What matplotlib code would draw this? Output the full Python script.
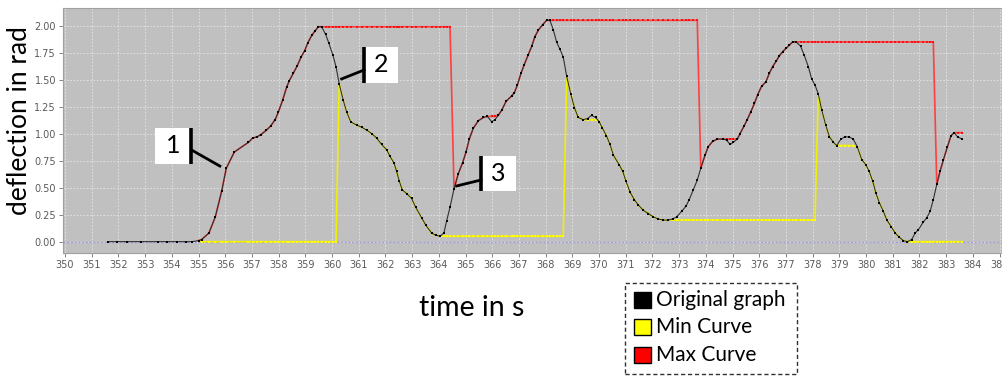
import matplotlib
matplotlib.use("Agg")
import matplotlib.pyplot as plt
from matplotlib.patches import Rectangle
import numpy as np

# ---------------- data ----------------
orig_t = [351.62, 351.96, 352.33, 352.83, 353.47, 353.83, 354.18, 354.52, 354.77, 355.00,
          355.12, 355.39, 355.63, 355.87, 356.04, 356.34, 356.87, 357.03, 357.18, 357.33,
          357.53, 357.70, 357.87, 357.99, 358.15, 358.30, 358.40, 358.55, 358.70, 358.84,
          358.98, 359.09, 359.24, 359.36, 359.49, 359.61, 359.76, 359.88, 360.03, 360.15,
          360.27, 360.42, 360.55, 360.70, 360.92, 361.11, 361.32, 361.49, 361.67, 361.86,
          362.05, 362.17, 362.32, 362.42, 362.52, 362.63, 362.82, 362.98, 363.13, 363.36,
          363.52, 363.73, 363.89, 364.04, 364.19, 364.29, 364.42, 364.57, 364.73, 364.89,
          365.02, 365.14, 365.29, 365.48, 365.67, 365.82, 365.98, 366.10, 366.23, 366.36,
          366.52, 366.73, 366.83, 366.94, 367.08, 367.20, 367.35, 367.48, 367.60, 367.73,
          367.89, 368.04, 368.16, 368.29, 368.41, 368.54, 368.66, 368.79, 368.94, 369.08,
          369.22, 369.41, 369.57, 369.72, 369.87, 370.01, 370.13, 370.28, 370.41, 370.54,
          370.76, 370.89, 371.01, 371.16, 371.32, 371.47, 371.66, 371.85, 372.03, 372.22,
          372.41, 372.58, 372.76, 372.91, 373.09, 373.26, 373.38, 373.53, 373.68, 373.81,
          373.97, 374.09, 374.26, 374.43, 374.66, 374.78, 374.91, 375.03, 375.18, 375.28,
          375.43, 375.55, 375.68, 375.82, 375.94, 376.09, 376.25, 376.38, 376.50, 376.63,
          376.75, 376.88, 377.00, 377.13, 377.25, 377.38, 377.55, 377.68, 377.84, 377.96,
          378.09, 378.21, 378.34, 378.49, 378.63, 378.78, 378.90, 379.06, 379.21, 379.37,
          379.52, 379.67, 379.84, 380.00, 380.12, 380.25, 380.37, 380.50, 380.65, 380.78,
          380.94, 381.09, 381.25, 381.40, 381.55, 381.71, 381.84, 381.96, 382.14, 382.27,
          382.40, 382.52, 382.65, 382.77, 382.90, 383.05, 383.18, 383.30, 383.43, 383.60]
orig_v = [0.00, 0.00, 0.00, 0.00, 0.00, 0.00, 0.00, 0.00, 0.00, 0.01,
          0.02, 0.08, 0.23, 0.47, 0.68, 0.83, 0.92, 0.96, 0.97, 0.99,
          1.03, 1.07, 1.13, 1.20, 1.31, 1.43, 1.49, 1.56, 1.63, 1.71,
          1.77, 1.84, 1.91, 1.95, 1.99, 1.99, 1.92, 1.84, 1.73, 1.62,
          1.46, 1.31, 1.20, 1.11, 1.08, 1.06, 1.03, 1.00, 0.96, 0.90,
          0.85, 0.79, 0.73, 0.65, 0.56, 0.48, 0.44, 0.40, 0.32, 0.22,
          0.15, 0.08, 0.06, 0.05, 0.08, 0.19, 0.32, 0.49, 0.63, 0.73,
          0.83, 0.95, 1.05, 1.12, 1.15, 1.16, 1.11, 1.13, 1.17, 1.22,
          1.30, 1.35, 1.38, 1.45, 1.56, 1.64, 1.73, 1.81, 1.90, 1.96,
          2.01, 2.05, 2.05, 1.96, 1.85, 1.78, 1.71, 1.53, 1.37, 1.24,
          1.15, 1.13, 1.14, 1.17, 1.15, 1.11, 1.05, 0.98, 0.90, 0.80,
          0.71, 0.65, 0.56, 0.46, 0.39, 0.34, 0.29, 0.26, 0.23, 0.21,
          0.20, 0.20, 0.21, 0.23, 0.28, 0.33, 0.39, 0.48, 0.57, 0.68,
          0.80, 0.88, 0.93, 0.95, 0.95, 0.94, 0.90, 0.92, 0.95, 1.00,
          1.07, 1.13, 1.20, 1.28, 1.36, 1.44, 1.48, 1.56, 1.62, 1.67,
          1.72, 1.76, 1.79, 1.82, 1.85, 1.85, 1.81, 1.73, 1.62, 1.51,
          1.45, 1.37, 1.22, 1.08, 0.97, 0.92, 0.89, 0.95, 0.97, 0.97,
          0.95, 0.88, 0.76, 0.71, 0.65, 0.56, 0.45, 0.36, 0.28, 0.20,
          0.14, 0.08, 0.04, 0.01, 0.00, 0.02, 0.08, 0.11, 0.18, 0.22,
          0.28, 0.39, 0.53, 0.65, 0.76, 0.88, 0.98, 1.01, 0.97, 0.95]

# envelope curves start at this time; hold segments: (start, end, level)
envelope_start = 355.00
max_holds = [(359.61, 364.42, 1.99), (365.98, 366.10, 1.16), (368.16, 373.68, 2.05),
             (374.66, 375.03, 0.95), (377.38, 382.52, 1.85), (383.43, 383.60, 1.01)]
min_holds = [(355.12, 360.15, 0.00), (364.19, 368.66, 0.05), (369.57, 369.87, 1.13),
             (372.58, 378.09, 0.20), (379.06, 379.52, 0.89), (381.71, 383.60, 0.00)]

x_ticks = list(range(350, 386))
y_ticks = [0.00, 0.25, 0.50, 0.75, 1.00, 1.25, 1.50, 1.75, 2.00]

legend_labels = ["Original graph", "Min Curve", "Max Curve"]
legend_colors = ["#000000", "#ffff00", "#ff0000"]


def envelope(holds):
    t_out, v_out = [], []
    for t, v in zip(orig_t, orig_v):
        if t < envelope_start - 1e-9:
            continue
        val = v
        for a, b, lev in holds:
            if a - 1e-9 <= t <= b + 1e-9:
                val = lev
        t_out.append(t)
        v_out.append(val)
    return t_out, v_out


max_t, max_v = envelope(max_holds)
min_t, min_v = envelope(min_holds)

# ---------------- figure ----------------
W, H = 1003, 376
fig = plt.figure(figsize=(W / 100, H / 100), dpi=100)
fig.patch.set_facecolor("white")

ax_l, ax_r, ax_t, ax_b = 63, 1003, 8, 253
ax = fig.add_axes([ax_l / W, 1 - ax_b / H, (ax_r - ax_l) / W, (ax_b - ax_t) / H])
ax.set_facecolor("#c0c0c0")
ax.set_xlim(349.925, 385.13)
ax.set_ylim(-0.105, 2.164)

ax.set_xticks(x_ticks)
ax.set_yticks(y_ticks)
ax.set_xticklabels([str(x) for x in x_ticks])
ax.set_yticklabels(["%.2f" % y for y in y_ticks])
ax.tick_params(axis="both", labelsize=7, colors="#707070", labelcolor="#5a5a5a",
               length=3, width=0.6, pad=2)
for lab in ax.get_xticklabels() + ax.get_yticklabels():
    lab.set_family("DejaVu Sans")
ax.grid(True, color="#e6e6e6", linestyle=(0, (2, 2)), linewidth=0.6)
ax.set_axisbelow(True)
for s in ax.spines.values():
    s.set_color("#a0a0a0")
    s.set_linewidth(0.8)

ax.axhline(0, color="#9a9ae0", linestyle=(0, (1.5, 1.5)), linewidth=0.9, zorder=1)

ax.plot(min_t, min_v, color="#f0f000", linewidth=1.2, zorder=2)
ax.plot(min_t, min_v, linestyle="none", marker="s", markersize=2.0, color="#ffff00",
        markeredgewidth=0, zorder=2.5)
ax.plot(max_t, max_v, color="#ff4040", linewidth=1.2, zorder=2)
ax.plot(max_t, max_v, linestyle="none", marker="s", markersize=2.0, color="#ff1010",
        markeredgewidth=0, zorder=2.5)
ax.plot(orig_t, orig_v, color="#303030", linewidth=0.8, zorder=3)
ax.plot(orig_t, orig_v, linestyle="none", marker="s", markersize=2.1, color="#000000",
        markeredgewidth=0, zorder=4)

# ---------------- callout annotations ----------------
def callout(num, box, bar_x, line_from, line_to):
    (x0, x1, y0, y1) = box
    ax.add_patch(Rectangle((x0, y0), x1 - x0, y1 - y0, facecolor="white",
                           edgecolor="none", zorder=6, clip_on=False))
    ax.plot([bar_x, bar_x], [y0, y1], color="black", linewidth=2.6, zorder=7,
            clip_on=False, solid_capstyle="butt")
    ax.plot([line_from[0], line_to[0]], [line_from[1], line_to[1]], color="black",
            linewidth=2.0, zorder=7, clip_on=False)
    ax.text((x0 + x1) / 2, (y0 + y1) / 2, num, ha="center", va="center",
            fontsize=18, family="Lato", color="black", zorder=8)

callout("1", (353.37, 354.72, 0.719, 1.053), 354.72, (354.74, 0.849), (355.80, 0.70))
callout("2", (361.20, 362.48, 1.467, 1.806), 361.20, (361.20, 1.59), (360.36, 1.507))
callout("3", (365.58, 366.89, 0.469, 0.796), 365.58, (365.58, 0.571), (364.67, 0.516))

# ---------------- axis titles ----------------
fig.text(20 / W, 1 - 121 / H, "deflection in rad", rotation=90, ha="center", va="center",
         fontsize=19, family="Lato", color="black")
fig.text(472 / W, 1 - 308 / H, "time in s", ha="center", va="center",
         fontsize=20.5, family="Lato", color="black")

# ---------------- legend box ----------------
def fx(px):
    return px / W

def fy(py):
    return 1 - py / H

lx0, lx1, ly0, ly1 = 625, 797, 283, 374
fig.add_artist(Rectangle((fx(lx0), fy(ly1)), fx(lx1) - fx(lx0), fy(ly0) - fy(ly1),
                         transform=fig.transFigure, facecolor="white", edgecolor="#303030",
                         linewidth=1.0, linestyle=(0, (3, 2))))
row_y = [300, 327, 355]
for lab, col, ry in zip(legend_labels, legend_colors, row_y):
    fig.add_artist(Rectangle((fx(634), fy(ry + 8)), fx(651) - fx(634), fy(ry - 8) - fy(ry + 8),
                             transform=fig.transFigure, facecolor=col, edgecolor="black",
                             linewidth=1.0))
    fig.text(fx(656), fy(ry), lab, ha="left", va="center", fontsize=15,
             family="Lato", color="black")

fig.savefig("out.png", dpi=100)
